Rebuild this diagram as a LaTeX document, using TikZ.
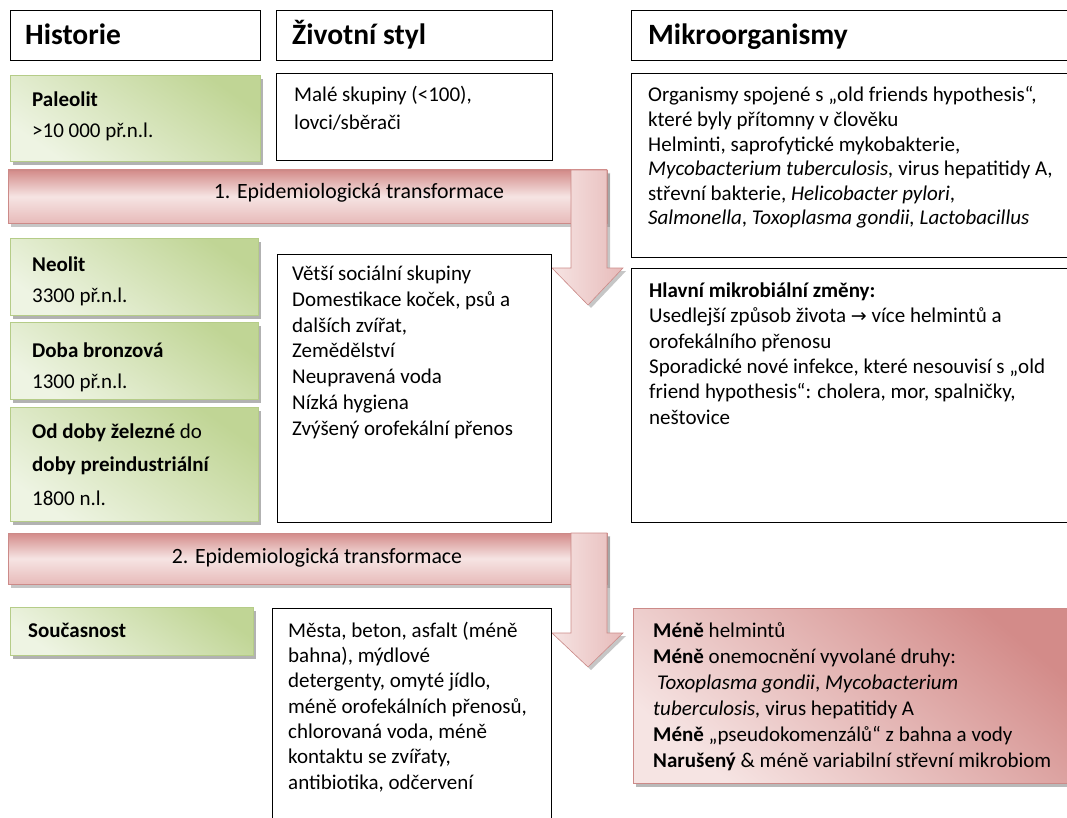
\documentclass[tikz,border=0pt]{standalone}
\usepackage{fontspec}
\setmainfont{Carlito}
\newfontfamily\arrowfont{DejaVu Sans}
\usetikzlibrary{shadows}
\definecolor{gDark}{HTML}{C0D595}
\definecolor{gLight}{HTML}{EEF4E3}
\definecolor{gEdge}{HTML}{B5CC88}
\definecolor{rDark}{HTML}{D38B89}
\definecolor{rLight}{HTML}{F6E4E3}
\definecolor{rMid}{HTML}{E7BBBA}
\definecolor{rEdge}{HTML}{CC8A88}
\begin{document}
\begin{tikzpicture}[x=1pt,y=-1pt,
  blackbox/.style={draw=black, line width=1.4pt, fill=white, anchor=north west, inner sep=0pt},
  greenbox/.style={anchor=north west, inner sep=0pt, draw=gEdge, line width=0.6pt,
     top color=gDark, bottom color=gLight, shading angle=-35,
     drop shadow={shadow xshift=2.5pt, shadow yshift=-3.5pt, fill=black!55, opacity=0.55}},
  redbox/.style={anchor=north west, inner sep=0pt, draw=rEdge, line width=0.6pt,
     top color=rDark, bottom color=rLight, shading angle=-40,
     drop shadow={shadow xshift=2.5pt, shadow yshift=-3.5pt, fill=black!55, opacity=0.5}},
  bandshape/.style={draw=rEdge, line width=0.6pt, top color=rDark, bottom color=rMid, middle color=rLight,
     drop shadow={shadow xshift=3pt, shadow yshift=-4pt, fill=black!50, opacity=0.45}},
  shaftshape/.style={draw=rEdge, line width=0.6pt, left color=rLight, right color=rMid,
     drop shadow={shadow xshift=3pt, shadow yshift=-3pt, fill=black!50, opacity=0.45}},
  head/.style={font=\fontsize{29.5}{34}\selectfont\bfseries, anchor=base west, inner sep=0pt},
  txt/.style={font=\fontsize{21}{25.3}\selectfont, anchor=base west, inner sep=0pt, align=left},
  gtxt/.style={font=\fontsize{21}{31}\selectfont, anchor=base west, inner sep=0pt, align=left},
  bandtxt/.style={font=\fontsize{21.8}{25}\selectfont, anchor=base, inner sep=0pt}
]
\useasboundingbox (0,0) rectangle (1067,818);
\clip (0,0) rectangle (1067,818);

% headers
\node[blackbox, minimum width=250pt, minimum height=50pt] (hHist) at (10,10) {};
\node[blackbox, minimum width=276pt, minimum height=50pt] (hLife) at (276,10) {};
\node[blackbox, minimum width=445pt, minimum height=50pt] (hMicro) at (631,10) {};
\node[head] (tHist) at (25,45) {Historie};
\node[head] (tLife) at (292,45) {Životní styl};
\node[head] (tMicro) at (648,45) {Mikroorganismy};

% row 1 (base anchor = baseline of the last line)
\node[greenbox, minimum width=250pt, minimum height=86pt] (paleo) at (10,75) {};
\node[gtxt] (tPaleo) at (32,138) {\textbf{Paleolit}\\>10 000 př.n.l.};
\node[blackbox, minimum width=276pt, minimum height=87pt] (male) at (276,73) {};
\node[txt, font=\fontsize{21}{28}\selectfont] (tMale) at (294,130) {Malé skupiny (<100),\\lovci/sběrači};
\node[blackbox, minimum width=445pt, minimum height=184pt] (mic1) at (631,73) {};
\node[txt, font=\fontsize{21}{24.6}\selectfont] (tMic1) at (648,225) {Organismy spojené s „old friends hypothesis“,\\které byly přítomny v člověku\\Helminti, saprofytické mykobakterie,\\\textit{Mycobacterium tuberculosis,} virus hepatitidy A,\\střevní bakterie, \textit{Helicobacter pylori},\\\textit{Salmonella}, \textit{Toxoplasma gondii, Lactobacillus}};

% transformation 1
\path[bandshape] (8,170) rectangle (607,223);
\path[shaftshape] (571,170) -- (607,170) -- (607,268) -- (623,268) -- (588,305) -- (552,268) -- (571,268) -- cycle;
\node[bandtxt] (tr1) at (359,199) {1. Epidemiologická transformace};

% row 2
\node[greenbox, minimum width=248pt, minimum height=77pt] (neo) at (10,238) {};
\node[gtxt] (tNeo) at (32,302) {\textbf{Neolit}\\3300 př.n.l.};
\node[greenbox, minimum width=248pt, minimum height=77pt] (bronz) at (10,322) {};
\node[gtxt] (tBronz) at (32,388) {\textbf{Doba bronzová}\\1300 př.n.l.};
\node[greenbox, minimum width=248pt, minimum height=114pt] (zelez) at (10,407) {};
\node[gtxt, font=\fontsize{21}{33.5}\selectfont] (tZelez) at (32,505) {\textbf{Od doby železné} do\\\textbf{doby preindustriální}\\1800 n.l.};
\node[blackbox, minimum width=274pt, minimum height=268pt] (vetsi) at (277,254) {};
\node[txt, font=\fontsize{21}{25.7}\selectfont] (tVetsi) at (292,435) {Větší sociální skupiny\\Domestikace koček, psů a\\dalších zvířat,\\Zemědělství\\Neupravená voda\\Nízká hygiena\\Zvýšený orofekální přenos};
\node[blackbox, minimum width=445pt, minimum height=254pt] (hlavni) at (631,268) {};
\node[txt] (tHlavni) at (649,424) {\textbf{Hlavní mikrobiální změny:}\\Usedlejší způsob života {\arrowfont\fontsize{19}{20}\selectfont →} více helmintů a\\orofekálního přenosu\\Sporadické nové infekce, které nesouvisí s „old\\friend hypothesis“: cholera, mor, spalničky,\\neštovice};

% transformation 2
\path[bandshape] (8,533) rectangle (607,584);
\path[shaftshape] (571,533) -- (607,533) -- (607,633) -- (623,633) -- (588,667) -- (552,633) -- (571,633) -- cycle;
\node[bandtxt] (tr2) at (317,563) {2. Epidemiologická transformace};

% row 3
\node[greenbox, minimum width=243pt, minimum height=48pt] (soucas) at (10,607) {};
\node[gtxt] (tSoucas) at (28,637) {\textbf{Současnost}};
\node[blackbox, minimum width=279pt, minimum height=230pt] (mesta) at (272,608) {};
\node[txt] (tMesta) at (288,789) {Města, beton, asfalt (méně\\bahna), mýdlové\\detergenty, omyté jídlo,\\méně orofekálních přenosů,\\chlorovaná voda, méně\\kontaktu se zvířaty,\\antibiotika, odčervení};
\node[redbox, minimum width=445pt, minimum height=175pt] (mene) at (633,608) {};
\node[txt, font=\fontsize{21}{26}\selectfont] (tMene) at (653,767) {\textbf{Méně} helmintů\\\textbf{Méně} onemocnění vyvolané druhy:\\\hspace{4pt}\textit{Toxoplasma gondii}, \textit{Mycobacterium}\\\textit{tuberculosis,} virus hepatitidy A\\\textbf{Méně} „pseudokomenzálů“ z bahna a vody\\\textbf{Narušený} \& méně variabilní střevní mikrobiom};
\end{tikzpicture}
\end{document}
